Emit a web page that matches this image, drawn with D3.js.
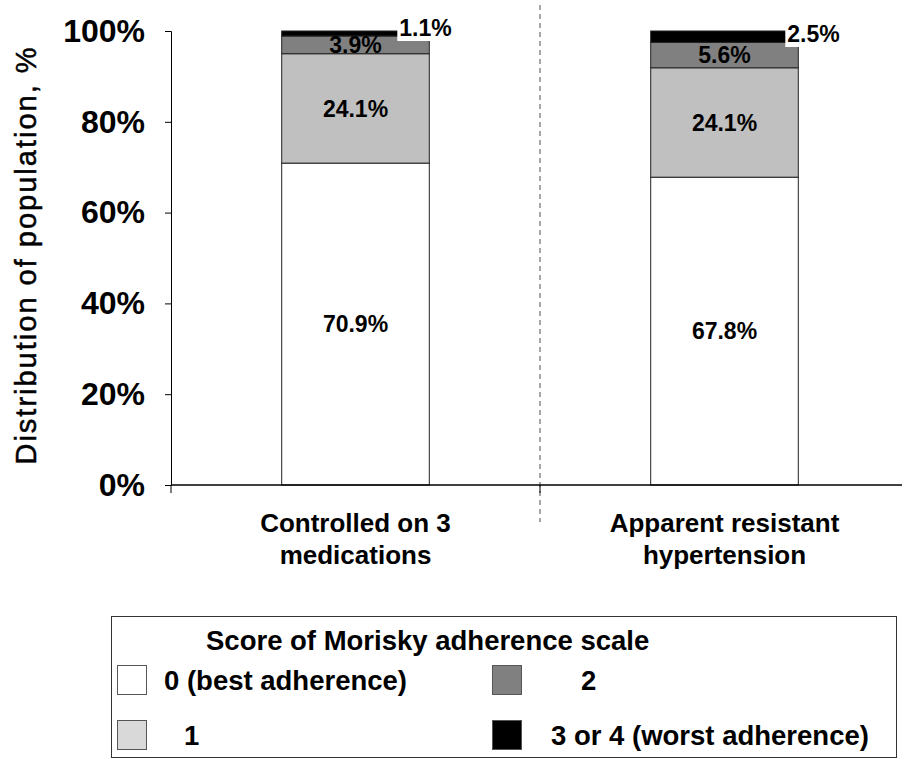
<!DOCTYPE html>
<html>
<head>
<meta charset="utf-8">
<script src="https://cdn.jsdelivr.net/npm/d3@7"></script>
<style>
  body { margin: 0; background: #fff; }
  svg { display: block; font-family: "Liberation Sans", Arial, sans-serif; }
</style>
</head>
<body>
<svg width="902" height="768"></svg>
<script>
// chart data
const categories = [['Controlled on 3', 'medications'], ['Apparent resistant', 'hypertension']]
const scores = ['0 (best adherence)', '1', '2', '3 or 4 (worst adherence)']
const controlled = [70.9, 24.1, 3.9, 1.1]
const resistant = [67.8, 24.1, 5.6, 2.5]
const yTicks = [0, 20, 40, 60, 80, 100]

const colors = ['#ffffff', '#c0c0c0', '#808080', '#000000']
const legendColors = ['#ffffff', '#d9d9d9', '#808080', '#000000']

const svg = d3.select('svg')
const margin = {top: 31, left: 171, bottom: 485, right: 909}

const keys = categories.map(c => c.join(' '))
const rows = [controlled, resistant].map((vals, i) => {
  const row = {cat: keys[i]}
  scores.forEach((s, j) => row[s] = vals[j])
  return row
})

const x = d3.scaleBand().domain(keys).range([margin.left, margin.right]).padding(0)
const y = d3.scaleLinear().domain([0, 100]).range([margin.bottom, margin.top])
const color = d3.scaleOrdinal().domain(scores).range(colors)

const series = d3.stack().keys(scores)(rows)

// dashed separator between the two groups
svg.append('line')
  .attr('x1', x(keys[1])).attr('x2', x(keys[1]))
  .attr('y1', 5).attr('y2', 522)
  .attr('stroke', '#777').attr('stroke-width', 1.3)
  .attr('stroke-dasharray', '5,4')

const barW = x.bandwidth() * 0.4
const barX = d => x(d.data.cat) + (x.bandwidth() - barW) / 2

svg.append('g').selectAll('g')
  .data(series)
  .join('g')
  .attr('fill', d => color(d.key))
  .selectAll('rect')
  .data(d => d)
  .join('rect')
  .attr('x', barX)
  .attr('width', barW)
  .attr('y', d => y(d[1]))
  .attr('height', d => y(d[0]) - y(d[1]))
  .attr('stroke', '#222')
  .attr('stroke-width', 1)

// y axis
const yAxis = svg.append('g')
  .attr('transform', `translate(${margin.left},0)`)
  .call(d3.axisLeft(y).tickValues(yTicks).tickSize(6).tickPadding(20).tickFormat(d => d + '%'))
yAxis.selectAll('text')
  .attr('font-size', 32).attr('font-weight', 'bold').attr('fill', '#000')
  .attr('font-family', '"Liberation Sans", Arial, sans-serif')
yAxis.selectAll('line, path').attr('stroke', '#000')

// x axis: plain line, ticks on group edges
svg.append('line')
  .attr('x1', margin.left).attr('x2', margin.right)
  .attr('y1', y(0)).attr('y2', y(0))
  .attr('stroke', '#000').attr('stroke-width', 1.5)
svg.append('g').selectAll('line')
  .data([...keys.map(k => x(k)), margin.right])
  .join('line')
  .attr('x1', d => d).attr('x2', d => d)
  .attr('y1', y(0)).attr('y2', y(0) + 8)
  .attr('stroke', '#000')

const catText = svg.append('g').selectAll('text')
  .data(categories)
  .join('text')
  .attr('x', (d, i) => x(keys[i]) + x.bandwidth() / 2)
  .attr('y', 532)
  .attr('text-anchor', 'middle')
  .attr('font-size', 26).attr('font-weight', 'bold')
catText.selectAll('tspan')
  .data(d => d)
  .join('tspan')
  .attr('x', function() { return this.parentNode.getAttribute('x') })
  .attr('dy', (d, i) => i ? 32 : 0)
  .text(d => d)

svg.append('text')
  .attr('transform', 'translate(36,255) rotate(-90)')
  .attr('text-anchor', 'middle')
  .attr('font-size', 29)
  .attr('letter-spacing', 2)
  .attr('stroke', '#000').attr('stroke-width', 0.5)
  .text('Distribution of population, %')

// value labels; the thin top segments get a white box to the right
const topDx = [-30, -11]
series.forEach((s, j) => {
  s.forEach((d, i) => {
    const t = (d[1] - d[0]).toFixed(1) + '%'
    if (j < 3) {
      svg.append('text')
        .attr('x', barX(d) + barW / 2)
        .attr('y', (y(d[0]) + y(d[1])) / 2)
        .attr('dy', '0.36em')
        .attr('text-anchor', 'middle')
        .attr('font-size', 23).attr('font-weight', 'bold')
        .text(t)
    } else {
      const tx = barX(d) + barW + topDx[i]
      const ty = y(d[1]) + 5 + i * 6
      svg.append('rect')
        .attr('x', tx - 2).attr('y', ty - 18)
        .attr('width', 58).attr('height', 23)
        .attr('fill', '#fff')
      svg.append('text')
        .attr('x', tx).attr('y', ty)
        .attr('font-size', 23).attr('font-weight', 'bold')
        .text(t)
    }
  })
})

// legend
const legend = svg.append('g')
  .attr('font-size', 27.5).attr('font-weight', 'bold')
legend.append('rect')
  .attr('x', 111.5).attr('y', 616.5)
  .attr('width', 785).attr('height', 141)
  .attr('fill', '#fff').attr('stroke', '#333')
legend.append('text')
  .attr('x', 206).attr('y', 650)
  .text('Score of Morisky adherence scale')

const legPos = [[117, 665, 164], [117, 720, 184], [492, 665, 581], [492, 720, 551]]
scores.forEach((s, i) => {
  const [sx, sy, tx] = legPos[i]
  legend.append('rect')
    .attr('x', sx + 0.5).attr('y', sy + 0.5)
    .attr('width', 29).attr('height', 29)
    .attr('fill', legendColors[i]).attr('stroke', '#555')
  legend.append('text')
    .attr('x', tx).attr('y', sy + 25)
    .text(s)
})
</script>
</body>
</html>
